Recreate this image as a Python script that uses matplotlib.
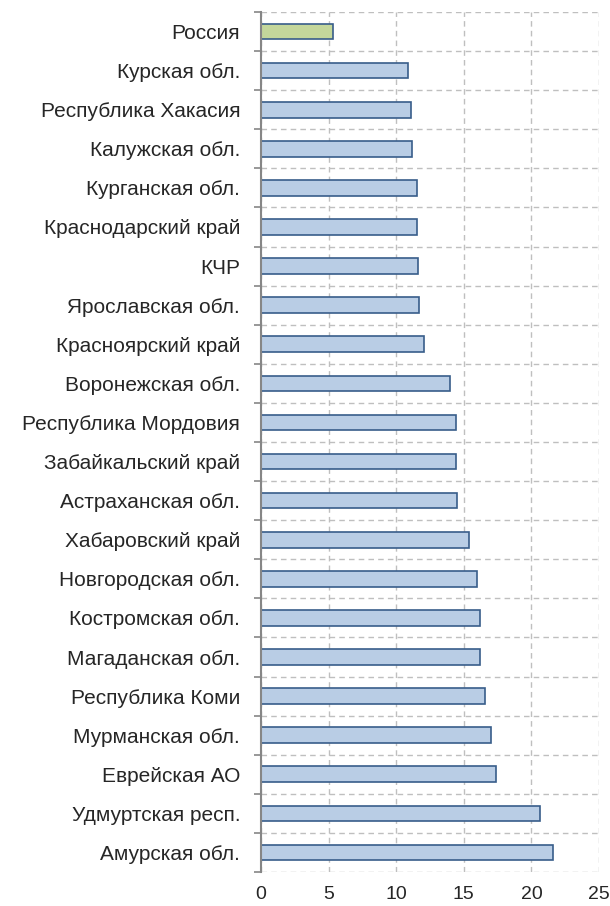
import numpy as np
import matplotlib
matplotlib.use("Agg")
import matplotlib.pyplot as plt

plt.rcParams['font.family'] = ['Liberation Sans', 'DejaVu Sans']

# регионы сверху вниз
regions = [
    "Россия", "Курская обл.", "Республика Хакасия", "Калужская обл.",
    "Курганская обл.", "Краснодарский край", "КЧР", "Ярославская обл.",
    "Красноярский край", "Воронежская обл.", "Республика Мордовия",
    "Забайкальский край", "Астраханская обл.", "Хабаровский край",
    "Новгородская обл.", "Костромская обл.", "Магаданская обл.",
    "Республика Коми", "Мурманская обл.", "Еврейская АО",
    "Удмуртская респ.", "Амурская обл.",
]
values = [
    5.3, 10.9, 11.1, 11.2,
    11.5, 11.55, 11.6, 11.7,
    12.05, 13.95, 14.4,
    14.4, 14.5, 15.35,
    16.0, 16.2, 16.2,
    16.6, 17.0, 17.4,
    20.65, 21.6,
]
x_ticks = [0, 5, 10, 15, 20, 25]

fig = plt.figure(figsize=(6.1, 9.06), dpi=100)
ax = fig.add_axes([0.428, 0.0375, 0.554, 0.9493])

y = np.arange(len(regions))
colors = ['#c4d79b' if r == "Россия" else '#b9cde5' for r in regions]
ax.barh(y, values, height=0.4, color=colors, edgecolor='#385d8a', linewidth=1.2, zorder=3)

ax.set_xlim(0, 25)
ax.set_ylim(len(regions) - 0.5, -0.5)
ax.set_xticks(x_ticks)
ax.set_xticklabels([str(t) for t in x_ticks], fontsize=14, color='#262626')
ax.set_yticks(y)
ax.set_yticklabels(regions, fontsize=15, color='#262626')
ax.set_yticks(np.arange(len(regions) + 1) - 0.5, minor=True)

ax.tick_params(axis='y', which='major', length=0, pad=15)
ax.tick_params(axis='y', which='minor', length=5, width=1.2, color='#868686', direction='out')
ax.tick_params(axis='x', length=0, pad=10)

ax.grid(axis='x', which='major', linestyle=(0, (4, 3)), color='#bfbfbf', linewidth=1, zorder=0)
ax.grid(axis='y', which='minor', linestyle=(0, (4, 3)), color='#bfbfbf', linewidth=1, zorder=0)

for side in ['top', 'right', 'bottom']:
    ax.spines[side].set_visible(False)
ax.spines['left'].set_color('#868686')
ax.spines['left'].set_linewidth(1.5)
ax.spines['left'].set_zorder(4)

fig.savefig("out.png", dpi=100)
